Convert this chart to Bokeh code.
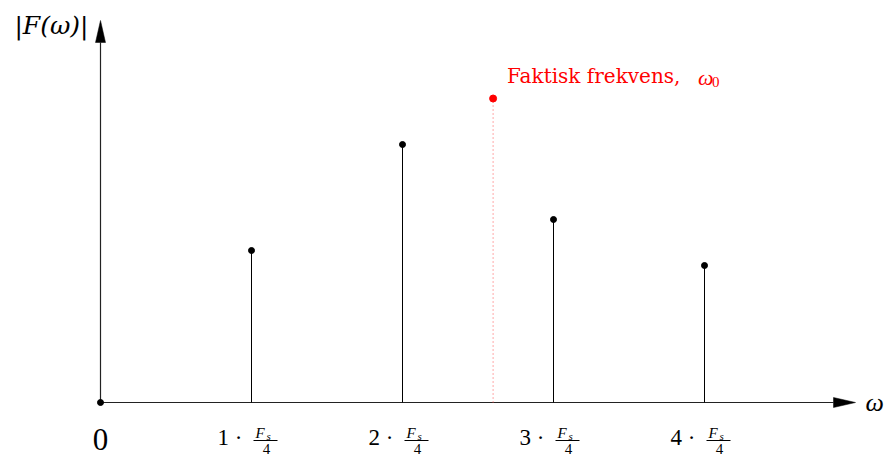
from bokeh.plotting import figure
from bokeh.models import Range1d, ColumnDataSource
from bokeh.core.properties import value
from bokeh.embed import file_html
from bokeh.resources import INLINE

# ---- data ----
harmonics = [1, 2, 3, 4]                 # multiples of Fs/4
magnitudes = [1.52, 2.58, 1.83, 1.37]    # |F(w)| of aliased components
tick_numbers = ["1", "2", "3", "4"]
actual_freq = [2.60]
actual_mag = [3.04]
x_axis_end = 5.0
y_axis_end = 3.82

# ---- layout ----
W, H = 886, 457
PX_X = 151.0   # pixels per x unit
PX_Y = 100.0   # pixels per y unit
ox, oy = 100, 402   # origin in frame pixels

p = figure(width=W, height=H, output_backend="svg", toolbar_location=None,
           x_range=Range1d(-ox / PX_X, (W - ox) / PX_X),
           y_range=Range1d(-(H - oy) / PX_Y, oy / PX_Y),
           min_border=0, outline_line_color=None)
p.axis.visible = False
p.grid.visible = False
p.background_fill_color = "white"
p.border_fill_color = "white"

SERIF = value("'Liberation Serif', serif")
WIDE = value("'DejaVu Serif', serif")
AX = "#222222"

# axes lines
head_len, head_half = 22, 5
p.segment(x0=[0, 0], y0=[0, 0],
          x1=[x_axis_end - head_len / PX_X, 0],
          y1=[0, y_axis_end - head_len / PX_Y],
          line_color=AX, line_width=1.2)
# arrow heads
p.patches(xs=[[x_axis_end, x_axis_end - head_len / PX_X, x_axis_end - head_len / PX_X],
              [0, -head_half / PX_X, head_half / PX_X]],
          ys=[[0, head_half / PX_Y, -head_half / PX_Y],
              [y_axis_end, y_axis_end - head_len / PX_Y, y_axis_end - head_len / PX_Y]],
          fill_color="black", line_color="black", line_width=0.5)

# stems
src = ColumnDataSource(dict(x=harmonics, y=magnitudes, z=[0] * len(harmonics)))
p.segment(x0="x", y0="z", x1="x", y1="y", source=src, line_color="black", line_width=1)
p.scatter(x="x", y="y", source=src, size=6, color="black")
p.scatter(x=[0], y=[0], size=6, color="black")

# actual frequency
p.segment(x0=actual_freq, y0=[0], x1=actual_freq, y1=actual_mag,
          line_color="#ff5050", line_width=1, line_dash="1 3")
p.scatter(x=actual_freq, y=actual_mag, size=7, color="red")
p.text(x=actual_freq, y=actual_mag, text=["Faktisk frekvens,"],
       x_offset=14, y_offset=-23, text_align="left", text_baseline="middle",
       text_font=WIDE, text_font_size="20px", text_color="red")
p.text(x=actual_freq, y=actual_mag, text=["ω"],
       x_offset=205, y_offset=-21, text_align="left", text_baseline="middle",
       text_font=SERIF, text_font_style="italic", text_font_size="22px", text_color="red")
p.text(x=actual_freq, y=actual_mag, text=["0"],
       x_offset=219, y_offset=-17, text_align="left", text_baseline="middle",
       text_font=SERIF, text_font_size="15px", text_color="red")

# tick labels
p.text(x=[0], y=[0], text=["0"], y_offset=37, text_align="center",
       text_baseline="middle", text_font=SERIF, text_font_size="31px",
       text_color="black")
zeros = [0] * len(harmonics)
p.text(x=harmonics, y=zeros, text=[t + " ·" for t in tick_numbers],
       x_offset=-9, y_offset=35, text_align="right", text_baseline="middle",
       text_font=SERIF, text_font_size="23px", text_color="black")
p.text(x=harmonics, y=zeros, text=["F"] * 4, x_offset=4, y_offset=30,
       text_align="left", text_baseline="middle", text_font=SERIF,
       text_font_style="italic", text_font_size="15px", text_color="black")
p.text(x=harmonics, y=zeros, text=["s"] * 4, x_offset=15, y_offset=33,
       text_align="left", text_baseline="middle", text_font=SERIF,
       text_font_style="italic", text_font_size="11px", text_color="black")
p.text(x=harmonics, y=zeros, text=["4"] * 4, x_offset=15, y_offset=46,
       text_align="center", text_baseline="middle", text_font=SERIF,
       text_font_size="15px", text_color="black")
p.scatter(x=[h + 14 / PX_X for h in harmonics], y=[-38 / PX_Y] * 4,
          marker="dash", size=24, line_color="black", line_width=1)

# axis titles
p.text(x=[x_axis_end], y=[0], text=["ω"], x_offset=10, y_offset=0,
       text_align="left", text_baseline="middle", text_font=SERIF,
       text_font_style="italic", text_font_size="26px", text_color="black")
p.text(x=[0], y=[y_axis_end], text=["|F(ω)|"], x_offset=-12, y_offset=5,
       text_align="right", text_baseline="middle", text_font=WIDE,
       text_font_style="italic", text_font_size="25px", text_color="black")

open("out.html", "w").write(file_html(p, INLINE))
